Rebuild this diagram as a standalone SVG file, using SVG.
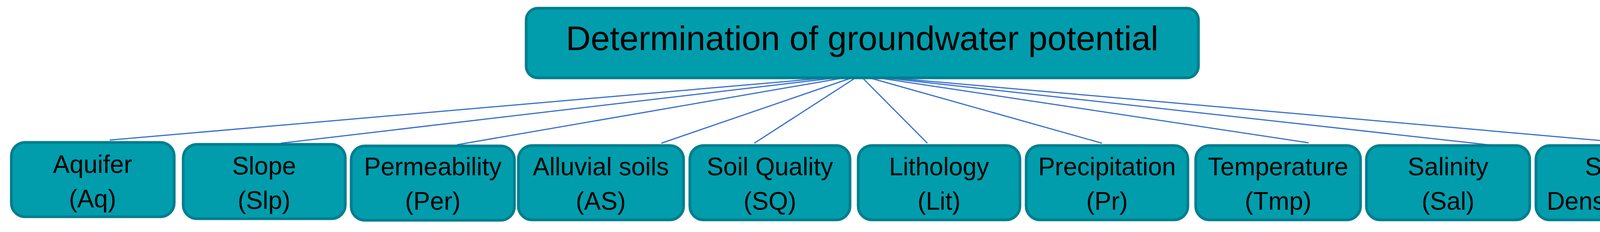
<svg xmlns="http://www.w3.org/2000/svg" width="4377" height="593" viewBox="0 0 4377 593">
<style>
.box{fill:#019dac;stroke:#037e8e;stroke-width:7}
.t{font-family:"Liberation Sans",Arial,sans-serif;fill:#000;text-anchor:middle}
.s{font-size:64px}
.c{stroke:#3a6fd0;stroke-width:3;fill:none}
</style>
<rect width="4377" height="593" fill="#fff"/>
<g id="connectors">
<line class="c" x1="2201" y1="192" x2="281" y2="358"/>
<line class="c" x1="2201" y1="192" x2="719" y2="366"/>
<line class="c" x1="2201" y1="192" x2="1170" y2="370"/>
<line class="c" x1="2201" y1="192" x2="1693" y2="366"/>
<line class="c" x1="2201" y1="192" x2="1931" y2="366"/>
<line class="c" x1="2201" y1="192" x2="2374" y2="366"/>
<line class="c" x1="2201" y1="192" x2="2821" y2="366"/>
<line class="c" x1="2201" y1="192" x2="3350" y2="365"/>
<line class="c" x1="2201" y1="192" x2="3828" y2="372"/>
<line class="c" x1="2201" y1="192" x2="4219" y2="370"/>
</g>
<g id="root"><rect class="box" x="1347" y="21" width="1721" height="178" rx="30"/><text class="t" x="2207" y="128" font-size="88">Determination of groundwater potential</text></g>
<g id="n1"><rect class="box" x="29" y="364" width="417" height="190" rx="35"/><text class="t s" x="237" y="442">Aquifer</text><text class="t s" x="237" y="530">(Aq)</text></g>
<g id="n2"><rect class="box" x="469" y="369" width="415" height="190" rx="35"/><text class="t s" x="676" y="446">Slope</text><text class="t s" x="676" y="534">(Slp)</text></g>
<g id="n3"><rect class="box" x="899" y="373" width="418" height="190" rx="35"/><text class="t s" x="1108" y="448">Permeability</text><text class="t s" x="1108" y="536">(Per)</text></g>
<g id="n4"><rect class="box" x="1327" y="372" width="423" height="190" rx="35"/><text class="t s" x="1538" y="448">Alluvial soils</text><text class="t s" x="1538" y="536">(AS)</text></g>
<g id="n5"><rect class="box" x="1766" y="372" width="410" height="190" rx="35"/><text class="t s" x="1971" y="448">Soil Quality</text><text class="t s" x="1971" y="536">(SQ)</text></g>
<g id="n6"><rect class="box" x="2197" y="372" width="414" height="190" rx="35"/><text class="t s" x="2404" y="448">Lithology</text><text class="t s" x="2404" y="536">(Lit)</text></g>
<g id="n7"><rect class="box" x="2627" y="372" width="414" height="190" rx="35"/><text class="t s" x="2834" y="448">Precipitation</text><text class="t s" x="2834" y="536">(Pr)</text></g>
<g id="n8"><rect class="box" x="3061" y="372" width="422" height="190" rx="35"/><text class="t s" x="3272" y="448">Temperature</text><text class="t s" x="3272" y="536">(Tmp)</text></g>
<g id="n9"><rect class="box" x="3498" y="372" width="418" height="190" rx="35"/><text class="t s" x="3707" y="448">Salinity</text><text class="t s" x="3707" y="536">(Sal)</text></g>
<g id="n10"><rect class="box" x="3932" y="372" width="418" height="190" rx="35"/><text class="t s" x="4141" y="448">Stone</text><text class="t s" x="4141" y="536">Density (SD)</text></g>
</svg>
